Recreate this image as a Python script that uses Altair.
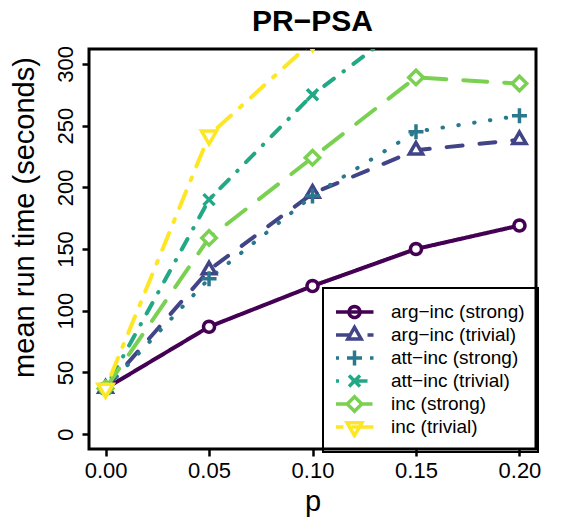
import math
import altair as alt
import pandas as pd

FONT = "Liberation Sans"

# ---- data ----
p_values = [0.00, 0.05, 0.10, 0.15, 0.20]
series_names = [
    "arg−inc (strong)",
    "arg−inc (trivial)",
    "att−inc (strong)",
    "att−inc (trivial)",
    "inc (strong)",
    "inc (trivial)",
]
arg_inc_strong = [37, 87, 120, 150, 169]
arg_inc_trivial = [37, 133, 195, 230, 238.5]
att_inc_strong = [37, 126, 193, 245, 258]
att_inc_trivial = [37, 190, 275, 338, 370]
inc_strong = [37, 159, 224, 289, 284]
inc_trivial = [37, 242, 318, 360, 385]
y_ticks = [0, 50, 100, 150, 200, 250, 300]
x_ticks = [0.00, 0.05, 0.10, 0.15, 0.20]

# ---- styles ----
colors = ["#440154", "#414487", "#2A788E", "#22A884", "#7AD151", "#FDE725"]
dashes = [[1, 0], [16, 17], [0.5, 15.5], [0.5, 12, 12, 12], [24, 17], [3, 12, 18, 12]]


def poly_circle(r, n=28):
    pts = [(r * math.cos(2 * math.pi * k / n), r * math.sin(2 * math.pi * k / n)) for k in range(n)]
    return "M" + "L".join(f"{x:.3f},{y:.3f}" for x, y in pts) + "Z"


def seg(a, b):
    return f"M{a},0L{b},0"


# plot markers (unit = 5 px at size 100)
m_circle = poly_circle(1.1)
m_tri_up = "M0,-1.54L1.33,0.77L-1.33,0.77Z"
m_plus = "M-1.5,0L1.5,0M0,-1.5L0,1.5"
m_x = "M-1.1,-1.1L1.1,1.1M-1.1,1.1L1.1,-1.1"
m_diamond = "M0,-1.45L1.45,0L0,1.45L-1.45,0Z"
m_tri_down = "M0,1.732L1.5,-0.866L-1.5,-0.866Z"
shapes = [m_circle, m_tri_up, m_plus, m_x, m_diamond, m_tri_down]

# legend keys: line pattern drawn as segments + marker
legend_shapes = [
    seg(-3.8, 3.8) + m_circle,
    seg(-3.8, -0.6) + m_tri_up + seg(2.6, 3.8),
    seg(-3.8, -3.1) + m_plus + seg(3.1, 3.8),
    seg(-3.8, -3.1) + m_x + seg(-0.6, 2.6),
    seg(-3.8, -1.45) + m_diamond + seg(1.45, 3.6),
    seg(-3.8, -2.2) + m_tri_down + seg(-0.6, 3.8),
]

all_series = [arg_inc_strong, arg_inc_trivial, att_inc_strong, att_inc_trivial, inc_strong, inc_trivial]
rows = []
for name, vals in zip(series_names, all_series):
    for p, v in zip(p_values, vals):
        rows.append({"p": p, "time": v, "series": name})
df = pd.DataFrame(rows)

x_enc = alt.X(
    "p:Q",
    scale=alt.Scale(domain=[-0.008, 0.208], nice=False, zero=False),
    axis=alt.Axis(
        values=x_ticks, format=".2f", title="p", labelFlush=False, labelPadding=4,
        titleBaseline="alphabetic", titleY=61,
    ),
)
y_enc = alt.Y(
    "time:Q",
    scale=alt.Scale(domain=[-12, 312], nice=False, zero=False),
    axis=alt.Axis(
        values=y_ticks, title="mean run time (seconds)", labelAngle=270, labelAlign="center",
        labelBaseline="alphabetic", labelPadding=10, labelFlush=False,
        titleAngle=270, titleAlign="center", titleBaseline="alphabetic", titleX=-56, titleY=168,
    ),
)

leg = alt.Legend(
    title=None,
    orient="none", legendX=234, legendY=239, padding=13, clipHeight=22.1,
    symbolSize=100, symbolStrokeWidth=3.5, symbolOffset=9, symbolFillColor="transparent",
    labelOffset=27, labelFont=FONT, labelFontSize=19, labelColor="black",
    rowPadding=0, strokeColor="black", labelLimit=400,
)

base = alt.Chart(df)

lines = base.mark_line(clip=True, strokeWidth=4, strokeCap="round").encode(
    x=x_enc,
    y=y_enc,
    color=alt.Color("series:N", scale=alt.Scale(domain=series_names, range=colors), legend=None),
    strokeDash=alt.StrokeDash("series:N", scale=alt.Scale(domain=series_names, range=dashes), legend=None),
)

points = base.mark_point(clip=True, filled=False, fill="white", strokeWidth=3.5, size=100, opacity=1).encode(
    x=x_enc,
    y=y_enc,
    stroke=alt.Stroke("series:N", scale=alt.Scale(domain=series_names, range=colors), legend=None),
    shape=alt.Shape("series:N", scale=alt.Scale(domain=series_names, range=shapes), legend=None),
)

# legend-only layer: no rows survive the filter, the legend comes from the explicit domains
legend_layer = base.transform_filter("datum.p < 0").mark_point(
    filled=False, strokeWidth=3.5, size=100, opacity=1
).encode(
    x=x_enc,
    y=y_enc,
    stroke=alt.Stroke("series:N", scale=alt.Scale(domain=series_names, range=colors), legend=leg),
    shape=alt.Shape("series:N", scale=alt.Scale(domain=series_names, range=legend_shapes), legend=leg),
)

chart = (
    alt.layer(lines, points, legend_layer)
    .resolve_scale(shape="independent", stroke="independent")
    .properties(
        width=447,
        height=400,
        autosize=alt.AutoSizeParams(type="none"),
        padding={"left": 81, "top": 41, "right": 30, "bottom": 68},
        title=alt.TitleParams(
            "PR−PSA", fontSize=30, fontWeight="bold", font=FONT, anchor="middle",
            frame="group", baseline="alphabetic", offset=19, dy=35, color="black",
        ),
        background="white",
    )
    .configure_view(stroke="black", strokeWidth=3)
    .configure_axis(
        domain=False, grid=False, ticks=True, tickColor="black", tickWidth=2.5, tickSize=7,
        labelFont=FONT, labelFontSize=22, labelColor="black",
        titleFont=FONT, titleFontSize=29, titleFontWeight="normal", titleColor="black",
    )
    .configure_legend(strokeWidth=2)
)

chart.save("out.html", embed_options={"renderer": "svg", "actions": False})
